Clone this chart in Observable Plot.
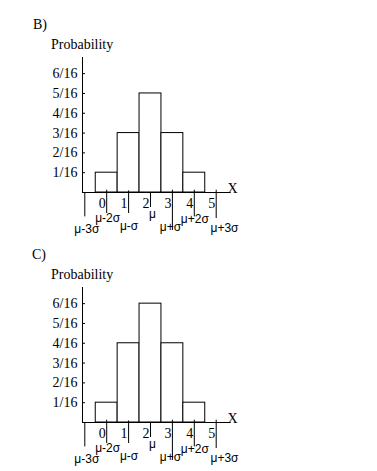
<!DOCTYPE html>
<html><head><meta charset="utf-8">
<script src="https://cdn.jsdelivr.net/npm/d3@7"></script>
<script src="https://cdn.jsdelivr.net/npm/@observablehq/plot@0.6"></script>
<style>
html,body{margin:0;background:#fff;}
#root{width:377px;height:471px;position:relative;}
.panel{position:relative;width:377px;height:230px;}
.panel:last-child{height:241px;}
.panel svg{position:absolute;left:0;top:0;background:none !important;overflow:visible;}
.lbl{position:absolute;font-family:"Liberation Serif",serif;font-size:14px;line-height:14px;color:#000;white-space:nowrap;}
</style></head><body><div id="root"></div>
<script>
// ---- data ----
const panelLetters = ["B)", "C)"];
const outcomes = [0, 1, 2, 3, 4];
const probB = [1, 3, 5, 3, 1];   // in sixteenths
const probC = [1, 4, 6, 4, 1];   // in sixteenths
const yTickValues = [1, 2, 3, 4, 5, 6];
const yTickLabels = ["1/16", "2/16", "3/16", "4/16", "5/16", "6/16"];
const xTickValues = [0, 1, 2, 3, 4, 5];
const xTickLabels = ["0", "1", "2", "3", "4", "5"];
const sigmaPositions = [-1, 0, 1, 2, 3, 4, 5];
const sigmaLabels = ["μ-3σ", "μ-2σ", "μ-σ", "μ", "μ+σ", "μ+2σ", "μ+3σ"];
const yTitle = "Probability";
const axisName = "X";

// ---- layout (pixels) ----
const W = 377, H = 241, mL = 82, mR = 377 - 230.5, mT = 57, mB = 49;
const xDomain = [-1.105, 5.676];
const yMax = 6.815;
const frameW = W - mL - mR, frameH = H - mT - mB;
const pxPerX = frameW / (xDomain[1] - xDomain[0]);
const below = px => -px * yMax / frameH;
const sigmaLineTop = [0, -2.3, -1.6, 0.7, -2.3, -2.3, -2.3];
const sigmaLineBottom = [24.4, 21, 21, 15, 38, 24.4, 26];
const sigmaLabelDx = [2, 1, 0.5, 2, -2, 0.5, 8.3];
const sigmaLabelDy = [36.3, 25.6, 33.5, 21.8, 35, 26.5, 36];
const letterLeft = [33, 32];

const root = document.getElementById("root");
[probB, probC].forEach((vals, pi) => {
  const bars = outcomes.map((x, i) => ({x, p: vals[i]}));
  const sIdx = sigmaPositions.map((_, i) => i);
  const chart = Plot.plot({
    width: W, height: H,
    marginLeft: mL, marginRight: mR, marginTop: mT, marginBottom: mB,
    x: {domain: xDomain},
    y: {domain: [0, yMax]},
    style: {background: "none", color: "black", overflow: "visible"},
    marks: [
      Plot.rectY(bars, {x1: d => d.x - 0.5, x2: d => d.x + 0.5, y1: 0, y2: d => d.p, fill: "white", stroke: "black", strokeWidth: 1}),
      Plot.ruleY([0], {stroke: "black"}),
      Plot.ruleX([xDomain[0]], {stroke: "black"}),
      Plot.ruleY(yTickValues, {x1: xDomain[0], x2: xDomain[0], insetRight: -3, stroke: "black"}),
      Plot.axisY(yTickValues, {tickSize: 0, tickPadding: 5, tickFormat: d => yTickLabels[yTickValues.indexOf(d)], fontSize: 14, fontFamily: "Liberation Serif", label: null, fill: "black"}),
      Plot.axisX(xTickValues, {tickSize: 0, tickPadding: 6, dx: -4.5, tickFormat: d => xTickLabels[xTickValues.indexOf(d)], fontSize: 14, fontFamily: "Liberation Serif", label: null, fill: "black"}),
      Plot.ruleX(sIdx, {x: i => sigmaPositions[i], y1: i => below(sigmaLineTop[i]), y2: i => below(sigmaLineBottom[i]), stroke: "black"}),
      Plot.text(sIdx, {x: i => sigmaPositions[i] + sigmaLabelDx[i] / pxPerX, y: i => below(sigmaLabelDy[i]), text: i => sigmaLabels[i], fontSize: 12, fontFamily: "Liberation Sans", fill: "black"}),
      Plot.text([axisName], {frameAnchor: "bottom-right", dx: 6.5, fontSize: 14, fontFamily: "Liberation Serif", fill: "black"})
    ]
  });
  const panel = document.createElement("div");
  panel.className = "panel";
  panel.appendChild(chart);
  const letter = document.createElement("span");
  letter.className = "lbl";
  letter.textContent = panelLetters[pi];
  letter.style.left = letterLeft[pi] + "px";
  letter.style.top = "17.5px";
  panel.appendChild(letter);
  const title = document.createElement("span");
  title.className = "lbl";
  title.textContent = yTitle;
  title.style.left = "51px";
  title.style.top = "38.3px";
  panel.appendChild(title);
  root.appendChild(panel);
});
</script>
</body></html>
